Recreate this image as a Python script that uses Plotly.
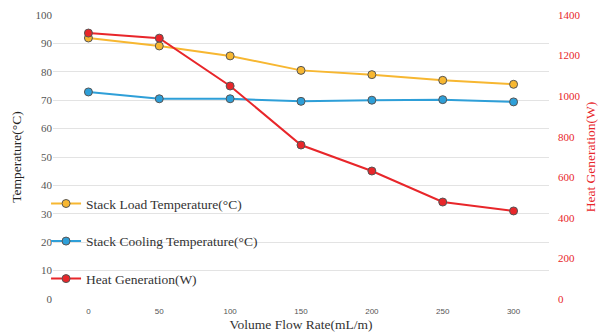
import plotly.graph_objects as go

flow_rates = ["0", "50", "100", "150", "200", "250", "300"]
load_temp = [91.9, 89.1, 85.6, 80.5, 79.0, 77.0, 75.6]
cooling_temp = [72.9, 70.5, 70.5, 69.6, 70.0, 70.2, 69.4]
heat_gen = [1311, 1286, 1050, 759, 631, 478, 434]

serif = "Liberation Serif, Times New Roman, serif"
RED = "#E8262A"
YEL = "#F7B731"
BLU = "#2E9FD8"
mk_line = dict(color="#555555", width=1)

fig = go.Figure()
fig.add_trace(go.Scatter(x=flow_rates, y=load_temp, name="Stack Load Temperature(°C)",
                         mode="lines+markers", line=dict(color=YEL, width=2),
                         marker=dict(size=8, color=YEL, line=mk_line), legendgroup="a"))
fig.add_trace(go.Scatter(x=flow_rates, y=cooling_temp, name="Stack Cooling Temperature(°C)",
                         mode="lines+markers", line=dict(color=BLU, width=2),
                         marker=dict(size=8, color=BLU, line=mk_line), legendgroup="b"))
fig.add_trace(go.Scatter(x=flow_rates, y=heat_gen, name="Heat Generation(W)", yaxis="y2",
                         mode="lines+markers", line=dict(color=RED, width=2),
                         marker=dict(size=8, color=RED, line=mk_line), legendgroup="c"))

fig.update_layout(
    width=602, height=332,
    margin=dict(l=53, r=53, t=15, b=33),
    paper_bgcolor="white", plot_bgcolor="white",
    showlegend=True,
    legend=dict(x=-0.014, y=0.39, xanchor="left", yanchor="top",
                bgcolor="rgba(0,0,0,0)", tracegroupgap=17, itemwidth=30,
                font=dict(family=serif, size=13.5, color="#333333")),
    xaxis=dict(type="category", range=[-0.5, 6.5], showgrid=False, zeroline=False,
               showline=False, ticks="", automargin=False, ticklabelstandoff=6,
               tickfont=dict(family="Liberation Sans, Arial, sans-serif", size=8, color="#555555"),
               title=dict(text="Volume Flow Rate(mL/m)", standoff=7,
                          font=dict(family=serif, size=13.5, color="#333333"))),
    yaxis=dict(range=[0, 100], dtick=10, showgrid=True, gridcolor="#E3E3E3", gridwidth=1,
               zeroline=False, showline=False, ticks="", automargin=False,
               tickfont=dict(family=serif, size=11, color="#555555"),
               title=dict(text="Temperature(°C)", standoff=10,
                          font=dict(family=serif, size=13.5, color="#222222"))),
    yaxis2=dict(range=[0, 1400], dtick=200, overlaying="y", side="right", showgrid=False,
                zeroline=False, showline=False, ticks="", automargin=False, ticklabelstandoff=8,
                tickfont=dict(family=serif, size=11, color=RED),
                title=dict(text="Heat Generation(W)", standoff=6,
                           font=dict(family=serif, size=13.5, color=RED))),
)

fig.write_html("out.html")
